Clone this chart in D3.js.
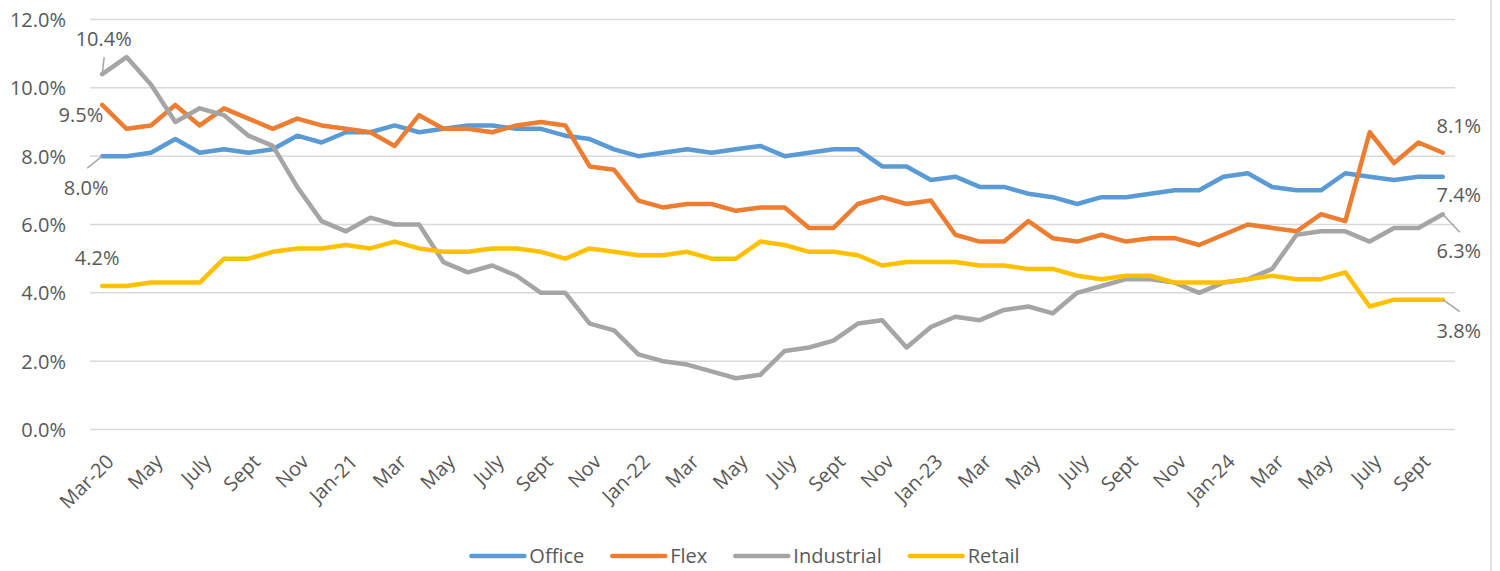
<!DOCTYPE html>
<html>
<head>
<meta charset="utf-8">
<script src="https://cdn.jsdelivr.net/npm/d3@7"></script>
<style>
  html, body { margin: 0; padding: 0; background: #fff; }
  svg { display: block; font-family: "Open Sans", sans-serif; }
</style>
</head>
<body>
<svg id="chart" width="1500" height="571"></svg>
<script>
// ---------------- DATA ----------------
const categories = [
  "Mar-20","Apr","May","June","July","Aug","Sept","Oct","Nov","Dec",
  "Jan-21","Feb","Mar","Apr","May","June","July","Aug","Sept","Oct","Nov","Dec",
  "Jan-22","Feb","Mar","Apr","May","June","July","Aug","Sept","Oct","Nov","Dec",
  "Jan-23","Feb","Mar","Apr","May","June","July","Aug","Sept","Oct","Nov","Dec",
  "Jan-24","Feb","Mar","Apr","May","June","July","Aug","Sept","Oct"
];

const office = [
  8.0, 8.0, 8.1, 8.5, 8.1, 8.2, 8.1, 8.2, 8.6, 8.4,
  8.7, 8.7, 8.9, 8.7, 8.8, 8.9, 8.9, 8.8, 8.8, 8.6,
  8.5, 8.2, 8.0, 8.1, 8.2, 8.1, 8.2, 8.3, 8.0, 8.1,
  8.2, 8.2, 7.7, 7.7, 7.3, 7.4, 7.1, 7.1, 6.9, 6.8,
  6.6, 6.8, 6.8, 6.9, 7.0, 7.0, 7.4, 7.5, 7.1, 7.0,
  7.0, 7.5, 7.4, 7.3, 7.4, 7.4
];
const flex = [
  9.5, 8.8, 8.9, 9.5, 8.9, 9.4, 9.1, 8.8, 9.1, 8.9,
  8.8, 8.7, 8.3, 9.2, 8.8, 8.8, 8.7, 8.9, 9.0, 8.9,
  7.7, 7.6, 6.7, 6.5, 6.6, 6.6, 6.4, 6.5, 6.5, 5.9,
  5.9, 6.6, 6.8, 6.6, 6.7, 5.7, 5.5, 5.5, 6.1, 5.6,
  5.5, 5.7, 5.5, 5.6, 5.6, 5.4, 5.7, 6.0, 5.9, 5.8,
  6.3, 6.1, 8.7, 7.8, 8.4, 8.1
];
const industrial = [
  10.4, 10.9, 10.1, 9.0, 9.4, 9.2, 8.6, 8.3, 7.1, 6.1,
  5.8, 6.2, 6.0, 6.0, 4.9, 4.6, 4.8, 4.5, 4.0, 4.0,
  3.1, 2.9, 2.2, 2.0, 1.9, 1.7, 1.5, 1.6, 2.3, 2.4,
  2.6, 3.1, 3.2, 2.4, 3.0, 3.3, 3.2, 3.5, 3.6, 3.4,
  4.0, 4.2, 4.4, 4.4, 4.3, 4.0, 4.3, 4.4, 4.7, 5.7,
  5.8, 5.8, 5.5, 5.9, 5.9, 6.3
];
const retail = [
  4.2, 4.2, 4.3, 4.3, 4.3, 5.0, 5.0, 5.2, 5.3, 5.3,
  5.4, 5.3, 5.5, 5.3, 5.2, 5.2, 5.3, 5.3, 5.2, 5.0,
  5.3, 5.2, 5.1, 5.1, 5.2, 5.0, 5.0, 5.5, 5.4, 5.2,
  5.2, 5.1, 4.8, 4.9, 4.9, 4.9, 4.8, 4.8, 4.7, 4.7,
  4.5, 4.4, 4.5, 4.5, 4.3, 4.3, 4.3, 4.4, 4.5, 4.4,
  4.4, 4.6, 3.6, 3.8, 3.8, 3.8
];
const seriesNames = ["Office", "Flex", "Industrial", "Retail"];
const yTicks = [0, 2, 4, 6, 8, 10, 12];

// ---------------- STYLE ----------------
const colors = { Office: "#5B9BD5", Flex: "#ED7D31", Industrial: "#A5A5A5", Retail: "#FFC000" };
const textColor = "#595959";
const gridColor = "#D9D9D9";
const fontSize = 20;

const series = [
  { name: "Office", values: office },
  { name: "Flex", values: flex },
  { name: "Industrial", values: industrial },
  { name: "Retail", values: retail }
];

const svg = d3.select("#chart");

const x = d3.scaleBand().domain(d3.range(categories.length)).range([90, 1455]).paddingInner(0).paddingOuter(0);
const y = d3.scaleLinear().domain([0, 12]).range([429.5, 19.5]);
const cx = i => x(i) + x.bandwidth() / 2;

// right border of chart area
svg.append("line")
  .attr("x1", 1491).attr("x2", 1491).attr("y1", 0).attr("y2", 571)
  .attr("stroke", gridColor).attr("stroke-width", 1.5);

// gridlines + y labels
const yAxis = d3.axisLeft(y).tickValues(yTicks).tickSize(0).tickPadding(0)
  .tickFormat(d => d3.format(".1f")(d) + "%");
const yg = svg.append("g").attr("transform", "translate(66,0)").call(yAxis);
yg.select(".domain").remove();
yg.selectAll("text").attr("fill", textColor).attr("font-size", fontSize)
  .attr("font-family", "'Open Sans', sans-serif").attr("dy", "0.35em").attr("x", 0);

svg.append("g").selectAll("line").data(yTicks).join("line")
  .attr("x1", 90).attr("x2", 1455)
  .attr("y1", d => y(d)).attr("y2", d => y(d))
  .attr("stroke", gridColor).attr("stroke-width", 1.5);

// x axis labels (every other category)
const xAxis = d3.axisBottom(x)
  .tickValues(d3.range(0, categories.length, 2))
  .tickSize(0).tickPadding(0)
  .tickFormat(i => categories[i]);
const xg = svg.append("g").attr("transform", "translate(0,430)").call(xAxis);
xg.select(".domain").remove();
xg.selectAll(".tick text")
  .attr("fill", textColor).attr("font-size", fontSize)
  .attr("font-family", "'Open Sans', sans-serif")
  .attr("text-anchor", "end")
  .attr("dy", null).attr("y", 0)
  .attr("transform", "translate(13,33) rotate(-45)");

// lines
const line = d3.line().x((d, i) => cx(i)).y(d => y(d));
svg.append("g").selectAll("path").data(series).join("path")
  .attr("d", s => line(s.values))
  .attr("fill", "none")
  .attr("stroke", s => colors[s.name])
  .attr("stroke-width", 4.5)
  .attr("stroke-linejoin", "round")
  .attr("stroke-linecap", "round");

// data labels (first and last values), with offsets + leader lines
const labelPlacement = {
  Office:     { first: { dx: -16, dy: 39, anchor: "middle", leader: [-15, 12] }, last: { dx: 16, dy: 25, anchor: "middle" } },
  Flex:       { first: { dx: 1, dy: 17, anchor: "end" },                           last: { dx: 16, dy: -19.5, anchor: "middle" } },
  Industrial: { first: { dx: 1.5, dy: -28, anchor: "middle", leader: [2, -17] }, last: { dx: 16, dy: 44, anchor: "middle", leader: [17, 18] } },
  Retail:     { first: { dx: -5, dy: -21, anchor: "middle" },                    last: { dx: 16, dy: 38.6, anchor: "middle", leader: [17, 12] } }
};
const lg = svg.append("g");
series.forEach(s => {
  const n = s.values.length;
  [["first", 0], ["last", n - 1]].forEach(([k, i]) => {
    const p = labelPlacement[s.name][k];
    const px = cx(i), py = y(s.values[i]);
    if (p.leader) {
      lg.append("line")
        .attr("x1", px).attr("y1", py)
        .attr("x2", px + p.leader[0]).attr("y2", py + p.leader[1])
        .attr("stroke", "#A6A6A6").attr("stroke-width", 1.5);
    }
    lg.append("text")
      .attr("x", px + p.dx).attr("y", py + p.dy)
      .attr("text-anchor", p.anchor)
      .attr("fill", textColor).attr("font-size", fontSize)
      .text(d3.format(".1f")(s.values[i]) + "%");
  });
});

// legend
const legend = svg.append("g");
let cursor = 0;
const items = [];
const itemGap = 26;
seriesNames.forEach(name => {
  const g = legend.append("g");
  g.append("line").attr("x1", 2).attr("x2", 55).attr("y1", 0).attr("y2", 0)
    .attr("stroke", colors[name]).attr("stroke-width", 4.5).attr("stroke-linecap", "round");
  const t = g.append("text").attr("x", 60).attr("y", 0).attr("dy", "0.35em")
    .attr("fill", textColor).attr("font-size", fontSize).text(name);
  const w = 60 + t.node().getComputedTextLength();
  items.push({ g, start: cursor });
  cursor += w + itemGap;
});
const total = cursor - itemGap;
const lx0 = 744.5 - total / 2;
items.forEach(it => it.g.attr("transform", `translate(${lx0 + it.start},556)`));
</script>
</body>
</html>
